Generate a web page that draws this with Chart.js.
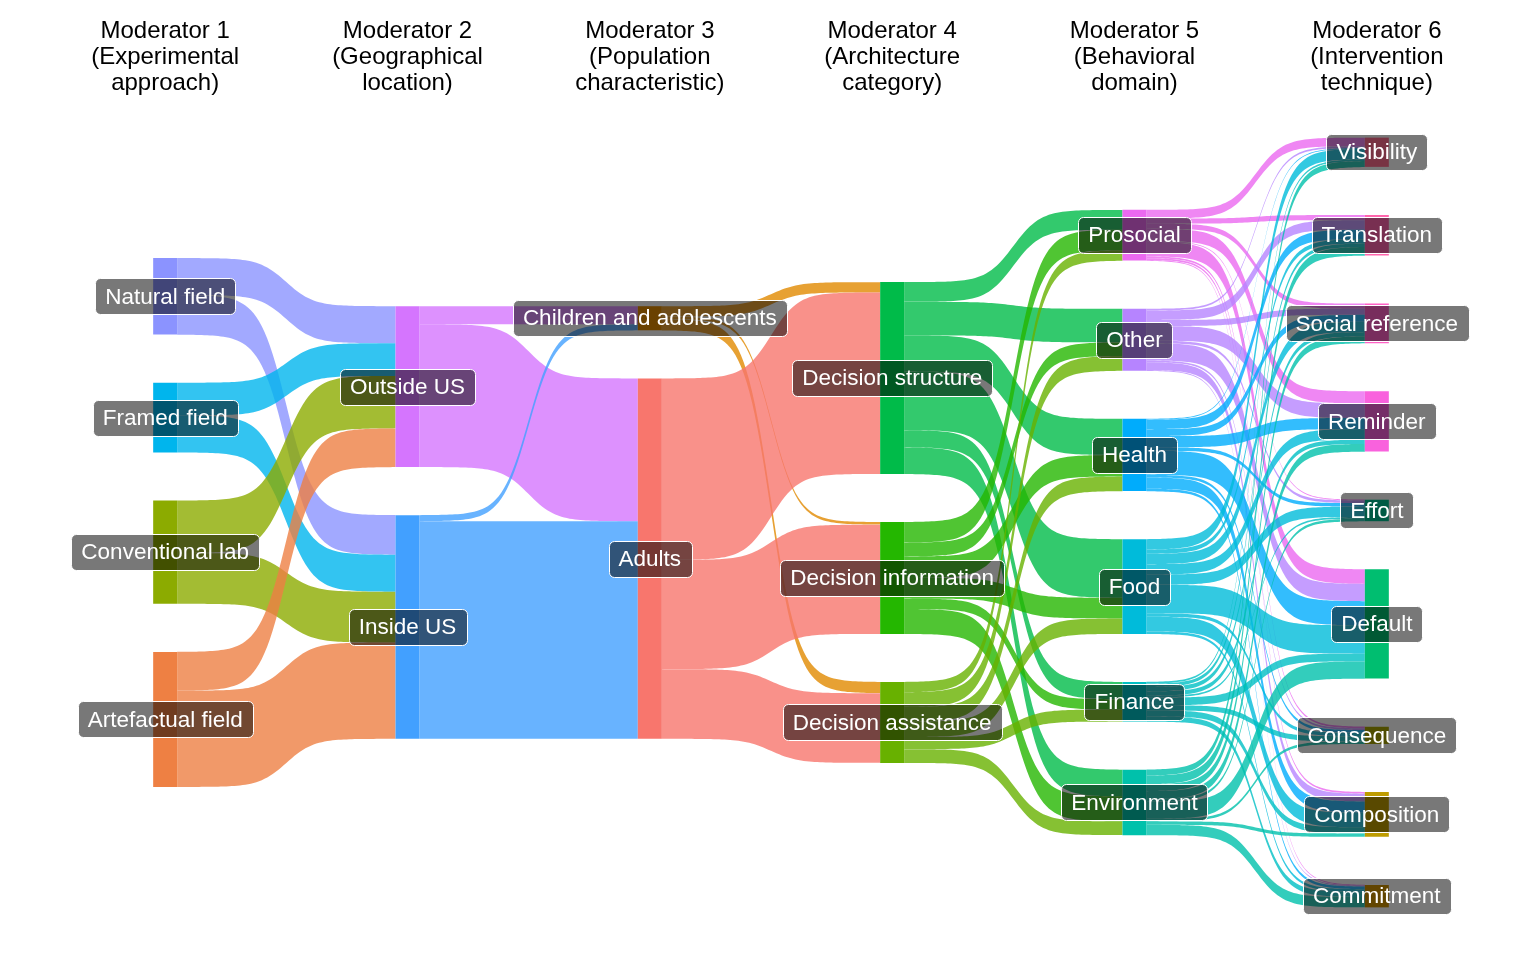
<!DOCTYPE html>
<html>
<head>
<meta charset="utf-8">
<script src="https://cdn.jsdelivr.net/npm/chart.js@4.4.0/dist/chart.umd.min.js"></script>
<style>
  html, body { margin: 0; padding: 0; background: #fff; }
  #wrap { width: 1536px; height: 960px; }
</style>
</head>
<body>
<div id="wrap"><canvas id="alluvialChart"></canvas></div>
<script>
// Titres des modérateurs (une ligne par entrée)
const axisTitles = [
  ["Moderator 1", "(Experimental", "approach)"],
  ["Moderator 2", "(Geographical", "location)"],
  ["Moderator 3", "(Population", "characteristic)"],
  ["Moderator 4", "(Architecture", "category)"],
  ["Moderator 5", "(Behavioral", "domain)"],
  ["Moderator 6", "(Intervention", "technique)"],
];

// Catégories de chaque axe, de haut en bas
const approach = ["Natural field", "Framed field", "Conventional lab", "Artefactual field"];
const region = ["Outside US", "Inside US"];
const population = ["Children and adolescents", "Adults"];
const category = ["Decision structure", "Decision information", "Decision assistance"];
const domain = ["Prosocial", "Other", "Health", "Food", "Finance", "Environment"];
const technique = ["Visibility", "Translation", "Social reference", "Reminder", "Effort",
  "Default", "Consequence", "Composition", "Commitment"];

// Effectifs des flux (lignes = axe de gauche, colonnes = axe de droite)
const approachToRegion = [
  [43, 46],
  [38, 43],
  [61, 59],
  [45, 112],
];
const regionToPopulation = [
  [21, 166],
  [7, 253],
];
const populationToCategory = [
  [12, 3, 13],
  [211, 127, 81],
];
const categoryToDomain = [
  [23, 39, 42, 68, 20, 31],
  [24, 16, 25, 24, 12, 29],
  [12, 17, 17, 18, 14, 16],
];
const domainToTechnique = [
  [10, 6, 6, 14, 1, 17, 2, 2, 1],
  [2, 11, 7, 17, 3, 20, 2, 9, 1],
  [1, 11, 8, 13, 4, 28, 3, 13, 3],
  [12, 5, 12, 12, 12, 33, 4, 17, 3],
  [2, 4, 5, 5, 2, 9, 6, 7, 6],
  [7, 10, 8, 9, 3, 20, 3, 4, 12],
];

const axes = [approach, region, population, category, domain, technique];
const transitions = [approachToRegion, regionToPopulation, populationToCategory,
  categoryToDomain, domainToTechnique];

const GAP = 56;          // espace entre les noeuds (en effectifs)
const FLOW_ALPHA = 0.8;

const rowSums = (m) => m.map((r) => r.reduce((a, b) => a + b, 0));
const colSums = (m) => m[0].map((_, j) => m.reduce((a, r) => a + r[j], 0));
const sizes = [rowSums(transitions[0])].concat(transitions.map(colSums));

// empile chaque axe de haut en bas, centré sur 0
const nodeTop = sizes.map((s) => {
  let y = (s.reduce((a, b) => a + b, 0) + GAP * (s.length - 1)) / 2;
  return s.map((v) => {
    const top = y;
    y -= v + GAP;
    return top;
  });
});

// palette "hue" de ggplot : hcl(h, 100, 65) sur les noeuds triés
function hcl(h, c, l) {
  const hr = (h * Math.PI) / 180;
  const U = c * Math.cos(hr), V = c * Math.sin(hr);
  const Xn = 95.047, Yn = 100, Zn = 108.883;
  const Y = Yn * (l > 8 ? Math.pow((l + 16) / 116, 3) : l / 903.3);
  const t = Xn + 15 * Yn + 3 * Zn;
  const u = U / (13 * l) + (4 * Xn) / t;
  const v = V / (13 * l) + (9 * Yn) / t;
  const X = (9 * Y * u) / (4 * v);
  const Z = -X / 3 - 5 * Y + (3 * Y) / v;
  const lin = [
    3.240479 * X - 1.53715 * Y - 0.498535 * Z,
    -0.969256 * X + 1.875992 * Y + 0.041556 * Z,
    0.055648 * X - 0.204043 * Y + 1.057311 * Z,
  ];
  return lin.map((x) => {
    x /= 100;
    const g = x <= 0.0031308 ? 12.92 * x : 1.055 * Math.pow(x, 1 / 2.4) - 0.055;
    return Math.round(255 * Math.min(1, Math.max(0, g)));
  });
}
const allNodes = axes.flat().slice().sort();
const nodeRgb = (name) => hcl(15 + (360 * allNodes.indexOf(name)) / allNodes.length, 100, 65);
const rgba = (rgb, a) => `rgba(${rgb[0]}, ${rgb[1]}, ${rgb[2]}, ${a})`;

// un dataset (barre flottante) par noeud
const datasets = [];
axes.forEach((names, a) => {
  names.forEach((name, k) => {
    const data = axes.map(() => null);
    data[a] = [nodeTop[a][k] - sizes[a][k], nodeTop[a][k]];
    datasets.push({
      label: name,
      data: data,
      backgroundColor: rgba(nodeRgb(name), 1),
      axisIndex: a,
      nodeIndex: k,
    });
  });
});

function ribbon(ctx, x0, x1, s0, s1, t0, t1) {
  const n = 80;
  const f = (k) => 1 / (1 + Math.exp(-(-8 + (16 * k) / n)));
  ctx.beginPath();
  for (let k = 0; k <= n; k++) {
    ctx.lineTo(x0 + ((x1 - x0) * k) / n, s0 + (t0 - s0) * f(k));
  }
  for (let k = n; k >= 0; k--) {
    ctx.lineTo(x0 + ((x1 - x0) * k) / n, s1 + (t1 - s1) * f(k));
  }
  ctx.closePath();
  ctx.fill();
}

const flowPlugin = {
  id: "flows",
  beforeDatasetsDraw(chart) {
    const { ctx, scales: { x, y } } = chart;
    const half = chart.getDatasetMeta(0).data[0].width / 2;
    ctx.save();
    transitions.forEach((m, t) => {
      const x0 = x.getPixelForValue(t) + half;
      const x1 = x.getPixelForValue(t + 1) - half;
      const outOff = nodeTop[t].slice();
      const inOff = nodeTop[t + 1].slice();
      m.forEach((row, i) => {
        ctx.fillStyle = rgba(nodeRgb(axes[t][i]), FLOW_ALPHA);
        row.forEach((v, j) => {
          if (!v) return;
          const sTop = outOff[i], tTop = inOff[j];
          outOff[i] -= v;
          inOff[j] -= v;
          ribbon(ctx, x0, x1,
            y.getPixelForValue(sTop), y.getPixelForValue(sTop - v),
            y.getPixelForValue(tTop), y.getPixelForValue(tTop - v));
        });
      });
    });
    ctx.restore();
  },
};

const labelPlugin = {
  id: "labels",
  afterDatasetsDraw(chart) {
    const { ctx, scales: { x, y } } = chart;
    ctx.save();
    ctx.font = "22.5px 'Liberation Sans', Arial, sans-serif";
    ctx.textAlign = "center";
    ctx.textBaseline = "middle";
    chart.data.datasets.forEach((ds) => {
      const a = ds.axisIndex, k = ds.nodeIndex;
      const cx = x.getPixelForValue(a);
      const cy = y.getPixelForValue(nodeTop[a][k] - sizes[a][k] / 2);
      const w = ctx.measureText(ds.label).width + 20;
      const h = 36;
      ctx.beginPath();
      ctx.roundRect(Math.round(cx - w / 2) + 0.5, Math.round(cy - h / 2) + 0.5, Math.round(w), h, 5);
      ctx.fillStyle = "rgba(0, 0, 0, 0.53)";
      ctx.fill();
      ctx.strokeStyle = "#ffffff";
      ctx.lineWidth = 1;
      ctx.stroke();
      ctx.fillStyle = "#ffffff";
      ctx.fillText(ds.label, cx, cy + 1);
    });

    // titres des axes
    ctx.font = "24px 'Liberation Sans', Arial, sans-serif";
    ctx.fillStyle = "#000000";
    ctx.textBaseline = "alphabetic";
    axisTitles.forEach((lines, i) => {
      const cx = x.getPixelForValue(i);
      lines.forEach((line, j) => ctx.fillText(line, cx, 38 + j * 26));
    });
    ctx.restore();
  },
};

new Chart(document.getElementById("alluvialChart").getContext("2d"), {
  type: "bar",
  data: {
    labels: axisTitles.map((t) => t.join(" ")),
    datasets: datasets,
  },
  options: {
    responsive: true,
    maintainAspectRatio: false,
    animation: false,
    layout: { padding: { left: 44, right: 38, top: 120, bottom: 35 } },
    datasets: {
      bar: { grouped: false, barPercentage: 0.099, categoryPercentage: 1, borderWidth: 0 },
    },
    scales: {
      x: { display: false },
      y: { display: false, min: -468, max: 468 },
    },
    plugins: {
      legend: { display: false },
      tooltip: { enabled: false },
    },
  },
  plugins: [flowPlugin, labelPlugin],
});
</script>
</body>
</html>
